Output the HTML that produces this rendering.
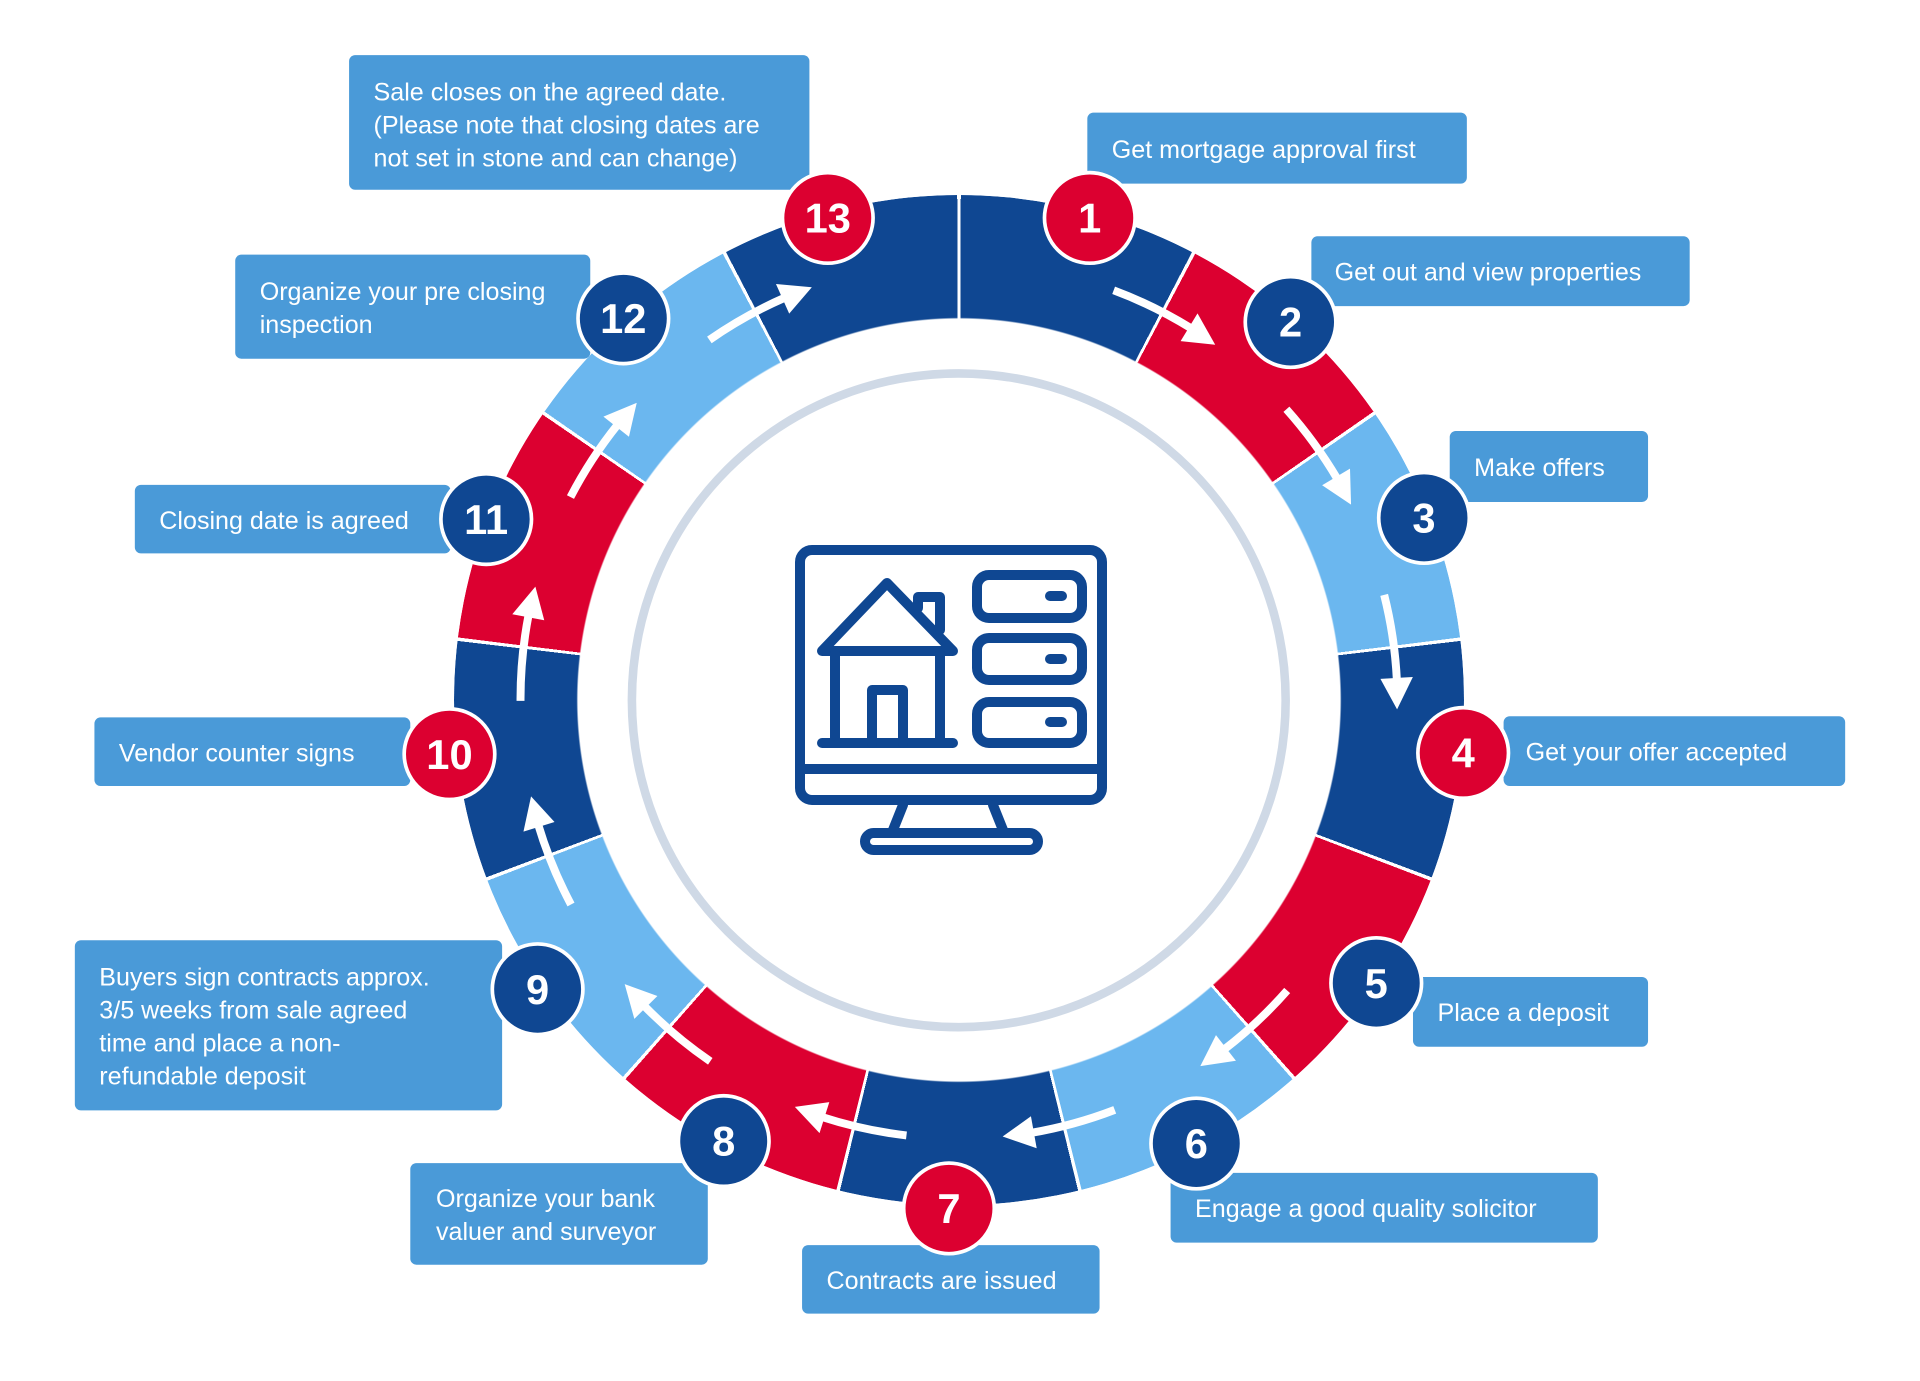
<!DOCTYPE html>
<html><head><meta charset="utf-8"><style>
html,body{margin:0;padding:0;background:#fff;}
#wrap{position:relative;width:1920px;height:1381px;overflow:hidden;background:#fff;}
#ring{position:absolute;left:454px;top:195px;width:1010px;height:1010px;border-radius:50%;
background:conic-gradient(from 0deg,#fff 0deg 0.2deg,#0f4792 0.2deg 27.49deg,#fff 27.49deg 27.89deg,#dc0030 27.89deg 55.18deg,#fff 55.18deg 55.58deg,#6bb7ef 55.58deg 82.88deg,#fff 82.88deg 83.28deg,#0f4792 83.28deg 110.57deg,#fff 110.57deg 110.97deg,#dc0030 110.97deg 138.26deg,#fff 138.26deg 138.66deg,#6bb7ef 138.66deg 165.95deg,#fff 165.95deg 166.35deg,#0f4792 166.35deg 193.65deg,#fff 193.65deg 194.05deg,#dc0030 194.05deg 221.34deg,#fff 221.34deg 221.74deg,#6bb7ef 221.74deg 249.03deg,#fff 249.03deg 249.43deg,#0f4792 249.43deg 276.72deg,#fff 276.72deg 277.12deg,#dc0030 277.12deg 304.42deg,#fff 304.42deg 304.82deg,#6bb7ef 304.82deg 332.11deg,#fff 332.11deg 332.51deg,#0f4792 332.51deg 359.8deg,#fff 359.8deg 360deg);
-webkit-mask:radial-gradient(circle closest-side,transparent 381px,#000 382.5px);
mask:radial-gradient(circle closest-side,transparent 381px,#000 382.5px);}
svg{position:absolute;left:0;top:0;}
text{font-family:"Liberation Sans",sans-serif;fill:#fff;}
</style></head><body><div id="wrap">
<div id="ring"></div>
<svg width="1920" height="1381" viewBox="0 0 1568 1128">
<circle cx="783" cy="572" r="267" fill="none" stroke="#cfd9e6" stroke-width="7"/>
<defs><g id="arr"><path d="M739.4,216.7 A358,358 0 0 1 810,214.8" fill="none" stroke="#fff" stroke-width="6.5"/><polygon points="808.8,201.5 833.5,217.5 807.1,228" fill="#fff"/></g></defs>
<use href="#arr" transform="rotate(27.69,783,572)"/>
<use href="#arr" transform="rotate(55.38,783,572)"/>
<use href="#arr" transform="rotate(83.08,783,572)"/>
<use href="#arr" transform="rotate(138.46,783,572)"/>
<use href="#arr" transform="rotate(166.15,783,572)"/>
<use href="#arr" transform="rotate(193.85,783,572)"/>
<use href="#arr" transform="rotate(221.54,783,572)"/>
<use href="#arr" transform="rotate(249.23,783,572)"/>
<use href="#arr" transform="rotate(276.92,783,572)"/>
<use href="#arr" transform="rotate(304.62,783,572)"/>
<use href="#arr" transform="rotate(332.31,783,572)"/>
<g fill="#4a9ad8">
<rect x="888" y="92" width="310" height="58" rx="5"/>
<rect x="1071" y="193" width="309" height="57" rx="5"/>
<rect x="1184" y="352" width="162" height="58" rx="5"/>
<rect x="1228" y="585" width="279" height="57" rx="5"/>
<rect x="1154" y="798" width="192" height="57" rx="5"/>
<rect x="956" y="958" width="349" height="57" rx="5"/>
<rect x="655" y="1017" width="243" height="56" rx="5"/>
<rect x="335" y="950" width="243" height="83" rx="5"/>
<rect x="61" y="768" width="349" height="139" rx="5"/>
<rect x="77" y="586" width="258" height="56" rx="5"/>
<rect x="110" y="396" width="258" height="56" rx="5"/>
<rect x="192" y="208" width="290" height="85" rx="5"/>
<rect x="285" y="45" width="376" height="110" rx="5"/>
</g>
<g font-size="20.5">
<text x="908" y="129">Get mortgage approval first</text>
<text x="1090" y="229">Get out and view properties</text>
<text x="1204" y="389">Make offers</text>
<text x="1246" y="621">Get your offer accepted</text>
<text x="1174" y="834">Place a deposit</text>
<text x="976" y="994">Engage a good quality solicitor</text>
<text x="675" y="1053">Contracts are issued</text>
<text x="356" y="986">Organize your bank</text>
<text x="356" y="1013">valuer and surveyor</text>
<text x="81" y="805">Buyers sign contracts approx.</text>
<text x="81" y="832">3/5 weeks from sale agreed</text>
<text x="81" y="859">time and place a non-</text>
<text x="81" y="886">refundable deposit</text>
<text x="97" y="622">Vendor counter signs</text>
<text x="130" y="432">Closing date is agreed</text>
<text x="212" y="245">Organize your pre closing</text>
<text x="212" y="272">inspection</text>
<text x="305" y="82">Sale closes on the agreed date.</text>
<text x="305" y="109">(Please note that closing dates are</text>
<text x="305" y="136">not set in stone and can change)</text>
</g>
<g stroke="#fff" stroke-width="3">
<circle cx="890" cy="178" r="37" fill="#dc0030"/>
<circle cx="1054" cy="263" r="37" fill="#0f4792"/>
<circle cx="1163" cy="423" r="37" fill="#0f4792"/>
<circle cx="1195" cy="615" r="37" fill="#dc0030"/>
<circle cx="1124" cy="803" r="37" fill="#0f4792"/>
<circle cx="977" cy="934" r="37" fill="#0f4792"/>
<circle cx="775" cy="987" r="37" fill="#dc0030"/>
<circle cx="591" cy="932" r="37" fill="#0f4792"/>
<circle cx="439" cy="808" r="37" fill="#0f4792"/>
<circle cx="367" cy="616" r="37" fill="#dc0030"/>
<circle cx="397" cy="424" r="37" fill="#0f4792"/>
<circle cx="509" cy="260" r="37" fill="#0f4792"/>
<circle cx="676" cy="178" r="37" fill="#dc0030"/>
</g>
<g font-size="34" font-weight="bold" text-anchor="middle">
<text x="890" y="190">1</text>
<text x="1054" y="275">2</text>
<text x="1163" y="435">3</text>
<text x="1195" y="627">4</text>
<text x="1124" y="815">5</text>
<text x="977" y="946">6</text>
<text x="775" y="999">7</text>
<text x="591" y="944">8</text>
<text x="439" y="820">9</text>
<text x="367" y="628">10</text>
<text x="397" y="436">11</text>
<text x="509" y="272">12</text>
<text x="676" y="190">13</text>
</g>
</svg>
<svg width="1920" height="1381" viewBox="0 0 1920 1381">
<g fill="none" stroke="#0f4792" stroke-width="10" stroke-linecap="round" stroke-linejoin="round">
<rect x="800" y="550" width="302" height="250" rx="12"/>
<line x1="800" y1="769" x2="1102" y2="769"/>
<line x1="903" y1="805" x2="893" y2="830"/>
<line x1="993" y1="805" x2="1003" y2="830"/>
<rect x="865" y="833" width="173" height="17" rx="8.5"/>
<polygon points="887,583 822,651 953,651"/>
<line x1="835" y1="653" x2="835" y2="743"/>
<line x1="940" y1="653" x2="940" y2="743"/>
<line x1="822" y1="743" x2="953" y2="743"/>
<polyline points="872,743 872,690 903,690 903,743"/>
<polyline points="918,608 918,597 940,597 940,630"/>
<rect x="977" y="575" width="105" height="43" rx="12"/>
<rect x="977" y="638" width="105" height="42" rx="12"/>
<rect x="977" y="702" width="105" height="41" rx="12"/>
<line x1="1050" y1="596" x2="1062" y2="596"/>
<line x1="1050" y1="659" x2="1062" y2="659"/>
<line x1="1050" y1="722" x2="1062" y2="722"/>
</g>
</svg>
</div></body></html>
